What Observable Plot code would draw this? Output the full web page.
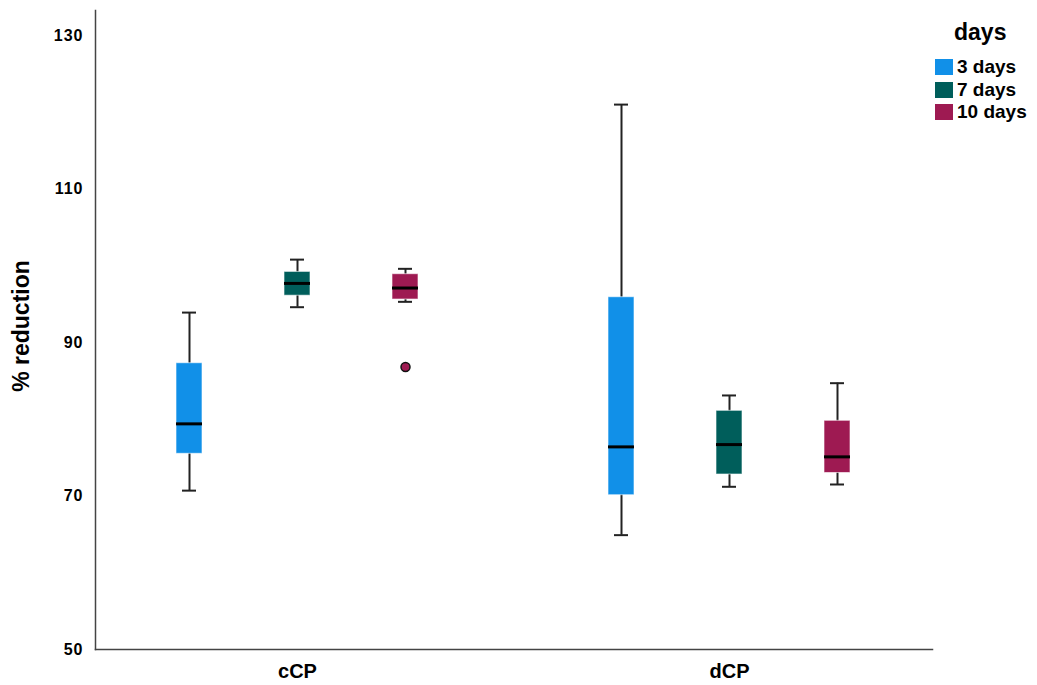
<!DOCTYPE html>
<html>
<head>
<meta charset="utf-8">
<script src="https://cdn.jsdelivr.net/npm/d3@7"></script>
<script src="https://cdn.jsdelivr.net/npm/@observablehq/plot@0.6"></script>
<style>
  html, body { margin: 0; padding: 0; background: #fff; }
  #wrap { position: relative; width: 1037px; height: 685px; font-family: "Liberation Sans", Arial, sans-serif; }
  #legend { position: absolute; left: 935px; top: 17px; color: #000; font-weight: bold; }
  #legend .title { font-size: 23px; margin-left: 19px; line-height: 30px; margin-bottom: 9px; }
  #legend .item { display: flex; align-items: center; font-size: 19px; height: 22.5px; }
  #legend .sw { width: 18px; height: 16px; margin-right: 4px; }
  svg [aria-label="y-axis tick label"] { letter-spacing: 1px; }
</style>
</head>
<body>
<div id="wrap"><div id="chart"></div><div id="legend"></div></div>
<script>
const groups = ["cCP", "dCP"];
const days = ["3 days", "7 days", "10 days"];
const colors = ["#1190E8", "#005E5B", "#9E1A52"];
// order: cCP 3,7,10 then dCP 3,7,10
const whiskerLow = [70.7, 94.6, 95.3, 64.9, 71.2, 71.5];
const q1 = [75.5, 96.1, 95.6, 70.1, 72.8, 73.0];
const median = [79.4, 97.7, 97.1, 76.4, 76.7, 75.1];
const q3 = [87.3, 99.2, 98.9, 95.9, 81.1, 79.8];
const whiskerHigh = [93.9, 100.8, 99.6, 121.0, 83.1, 84.7];
const outlierGroup = ["cCP"];
const outlierDay = ["10 days"];
const outlierValue = [86.8];
const yTicks = [50, 70, 90, 110, 130];

const stats = [];
groups.forEach((g, gi) => days.forEach((d, di) => {
  const i = gi * days.length + di;
  stats.push({key: g + "|" + d, group: g, day: d,
    low: whiskerLow[i], q1: q1[i], med: median[i], q3: q3[i], high: whiskerHigh[i]});
}));
const outliers = outlierValue.map((v, i) => ({key: outlierGroup[i] + "|" + outlierDay[i], day: outlierDay[i], value: v}));
const xDomain = [...groups.flatMap((g, gi) => {
  const ks = days.map(d => g + "|" + d);
  return gi < groups.length - 1 ? [...ks, "gap" + gi] : ks;
})];

const chart = Plot.plot({
  width: 1037, height: 685,
  marginLeft: 95, marginRight: 105, marginTop: 10, marginBottom: 36,
  style: {fontFamily: "'Liberation Sans', Arial, sans-serif", background: "white", color: "#000"},
  x: {domain: xDomain, paddingInner: 0.759, paddingOuter: 0.754, axis: null},
  y: {domain: [50, 133.26], axis: null},
  color: {domain: days, range: colors},
  marks: [
    Plot.axisY({ticks: yTicks, tickSize: 0, tickPadding: 12, fontSize: 16, fontWeight: "bold", label: null}),
    Plot.axisX({ticks: groups.map(g => g + "|" + days[1]), tickSize: 0, tickPadding: 14,
      tickFormat: d => d.split("|")[0], fontSize: 20, fontWeight: "bold", label: null}),
    Plot.text(["% reduction"], {frameAnchor: "left", textAnchor: "middle", rotate: -90, dx: -74, dy: -4,
      fontSize: 23, fontWeight: "bold", fill: "#000"}),
    Plot.ruleX(stats, {x: "key", y1: "low", y2: "high", stroke: "#222", strokeWidth: 2}),
    Plot.tickY(stats, {x: "key", y: "low", stroke: "#222", strokeWidth: 2, inset: 6}),
    Plot.tickY(stats, {x: "key", y: "high", stroke: "#222", strokeWidth: 2, inset: 6}),
    Plot.barY(stats, {x: "key", y1: "q1", y2: "q3", fill: "day", stroke: "#ffffff", strokeOpacity: 0.6, strokeWidth: 1}),
    Plot.tickY(stats, {x: "key", y: "med", stroke: "#000", strokeWidth: 3}),
    Plot.dot(outliers, {x: "key", y: "value", r: 4.5, fill: "day", stroke: "#111", strokeWidth: 1.5}),
    Plot.frame({anchor: "left", stroke: "#444", strokeWidth: 1.5}),
    Plot.frame({anchor: "bottom", stroke: "#444", strokeWidth: 1.5})
  ]
});
document.getElementById("chart").appendChild(chart);

const legend = document.getElementById("legend");
const t = document.createElement("div");
t.className = "title"; t.textContent = "days";
legend.appendChild(t);
days.forEach((d, i) => {
  const it = document.createElement("div");
  it.className = "item";
  const sw = document.createElement("div");
  sw.className = "sw"; sw.style.background = colors[i];
  const lb = document.createElement("span");
  lb.textContent = d;
  it.appendChild(sw); it.appendChild(lb);
  legend.appendChild(it);
});
</script>
</body>
</html>
